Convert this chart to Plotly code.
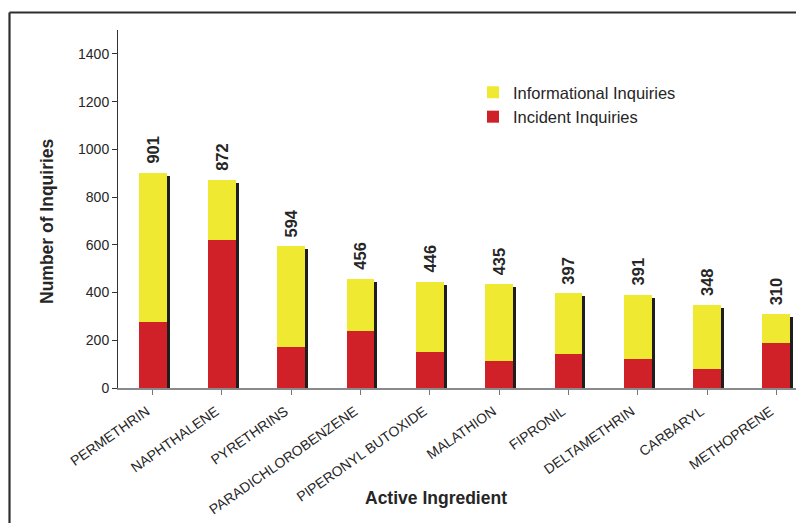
import plotly.graph_objects as go

# Inquiries per active ingredient
ingredients = [
    "PERMETHRIN", "NAPHTHALENE", "PYRETHRINS", "PARADICHLOROBENZENE",
    "PIPERONYL BUTOXIDE", "MALATHION", "FIPRONIL", "DELTAMETHRIN",
    "CARBARYL", "METHOPRENE",
]
total_inquiries = [901, 872, 594, 456, 446, 435, 397, 391, 348, 310]
incident_inquiries = [278, 620, 172, 240, 151, 113, 143, 122, 80, 189]
informational_inquiries = [t - i for t, i in zip(total_inquiries, incident_inquiries)]

W, H = 796, 523
ML, MR, MT, MB = 118, 0, 30, 135
plot_w = W - ML - MR
plot_h = H - MT - MB
Y_MAX = 1500
cat_px = 69.3                      # width of one category slot in pixels
x_hi = -0.5 + plot_w / cat_px

def px_to_paper_x(px):
    return (px - ML) / plot_w

def px_to_paper_y(py):
    return (H - MB - py) / plot_h

YELLOW = "#F0E932"
RED = "#D12128"
SHADOW = "#1E1E1E"
TEXT = "#262626"
FONT = "Liberation Sans, Arial, sans-serif"

xs = list(range(len(ingredients)))
bar_w = 0.40
shift_x = 3 / cat_px                       # drop shadow: 3px right
shift_y = 3 * Y_MAX / plot_h               # and 3px down

fig = go.Figure()

# drop shadow behind each stacked column
fig.add_trace(go.Bar(
    x=xs, y=[t - shift_y for t in total_inquiries],
    width=bar_w, offset=-bar_w / 2 + shift_x,
    marker=dict(color=SHADOW, line=dict(width=0)),
    showlegend=False, hoverinfo="skip",
))
fig.add_trace(go.Bar(
    x=xs, y=incident_inquiries, base=[0] * len(xs),
    width=bar_w, offset=-bar_w / 2,
    marker=dict(color=RED, line=dict(width=0)),
    name="Incident Inquiries", legendrank=2,
))
fig.add_trace(go.Bar(
    x=xs, y=informational_inquiries, base=incident_inquiries,
    width=bar_w, offset=-bar_w / 2,
    marker=dict(color=YELLOW, line=dict(width=0)),
    name="Informational Inquiries", legendrank=1,
))

annotations = []
for x, t in zip(xs, total_inquiries):
    annotations.append(dict(
        x=x, y=t, xref="x", yref="y", text=f"<b>{t}</b>",
        textangle=-90, showarrow=False, xanchor="center", yanchor="bottom",
        yshift=7, font=dict(family=FONT, size=16.5, color=TEXT),
    ))

annotations.append(dict(
    x=px_to_paper_x(47), y=px_to_paper_y(221), xref="paper", yref="paper",
    text="<b>Number of Inquiries</b>", textangle=-90, showarrow=False,
    xanchor="center", yanchor="middle",
    font=dict(family=FONT, size=17.5, color=TEXT),
))
annotations.append(dict(
    x=px_to_paper_x(436), y=px_to_paper_y(498), xref="paper", yref="paper",
    text="<b>Active Ingredient</b>", showarrow=False,
    xanchor="center", yanchor="middle",
    font=dict(family=FONT, size=17.5, color=TEXT),
))

# outer frame (top and left edges)
fx, fy = px_to_paper_x(9.5), px_to_paper_y(12.5)
shapes = [
    dict(type="line", xref="paper", yref="paper", x0=fx, x1=1.05, y0=fy, y1=fy,
         line=dict(color="#2E2E2E", width=2.2)),
    dict(type="line", xref="paper", yref="paper", x0=fx, x1=fx, y0=fy, y1=px_to_paper_y(540),
         line=dict(color="#2E2E2E", width=2.2)),
]

fig.update_layout(
    width=W, height=H,
    margin=dict(l=ML, r=MR, t=MT, b=MB, autoexpand=False),
    paper_bgcolor="white", plot_bgcolor="white",
    barmode="overlay", bargap=0,
    font=dict(family=FONT, size=14, color=TEXT),
    showlegend=True,
    legend=dict(
        x=px_to_paper_x(473), y=px_to_paper_y(75), xanchor="left", yanchor="top",
        bgcolor="rgba(0,0,0,0)", font=dict(family=FONT, size=16.5, color=TEXT),
        itemwidth=30, tracegroupgap=0,
    ),
    xaxis=dict(
        range=[-0.5, x_hi], tickmode="array", tickvals=xs, ticktext=ingredients,
        tickangle=-35, tickson="boundaries", ticks="outside", ticklen=5,
        tickcolor="#777", showline=True, linecolor="#8A8A8A", linewidth=2,
        showgrid=False, zeroline=False, ticklabelshift=-6, ticklabelstandoff=3,
        tickfont=dict(family=FONT, size=14, color=TEXT),
    ),
    yaxis=dict(
        range=[0, Y_MAX], tickvals=[0, 200, 400, 600, 800, 1000, 1200, 1400],
        ticks="outside", ticklen=5, tickcolor="#333", showline=True,
        linecolor="#333", linewidth=1, showgrid=False, zeroline=False,
        tickfont=dict(family=FONT, size=14, color=TEXT),
    ),
    annotations=annotations,
    shapes=shapes,
)

fig.write_html("out.html")
